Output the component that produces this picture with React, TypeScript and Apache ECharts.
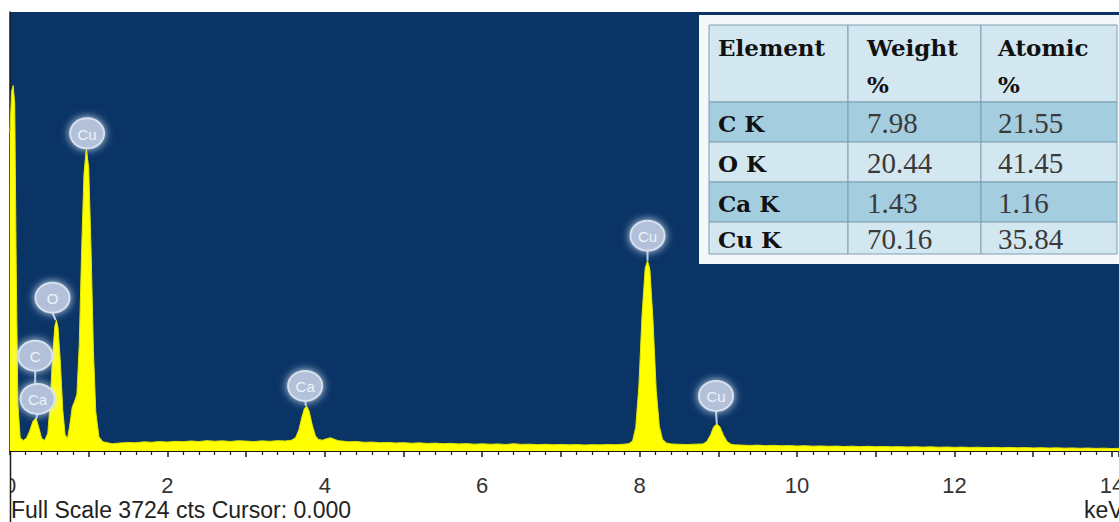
import React, { useEffect, useRef } from "react";
import * as echarts from "echarts";

// ---- spectrum data (keV, counts) ----
const energyKeV = [
  0, 0.02, 0.04, 0.06, 0.08, 0.1, 0.13, 0.17, 0.21, 0.25, 0.29, 0.33, 0.37, 0.4, 0.44, 0.48,
  0.51, 0.54, 0.57, 0.59, 0.61, 0.64, 0.67, 0.7, 0.73, 0.76, 0.79, 0.82, 0.85, 0.88, 0.91, 0.94,
  0.97, 1.0, 1.03, 1.06, 1.09, 1.13, 1.18,
  1.3, 1.4, 1.5, 1.6, 1.7, 1.8, 1.9, 2.0, 2.1, 2.2, 2.3, 2.4, 2.5, 2.6, 2.7, 2.8, 2.9, 3.0, 3.1,
  3.2, 3.3, 3.4, 3.5,
  3.58, 3.63, 3.67, 3.71, 3.74, 3.77, 3.8, 3.84, 3.88, 3.92, 3.97, 4.02, 4.07, 4.12, 4.17, 4.25,
  4.3, 4.4, 4.5, 4.6, 4.7, 4.8, 4.9, 5.0, 5.1, 5.2, 5.3, 5.4, 5.5, 5.6, 5.7, 5.8, 5.9, 6.0, 6.1,
  6.2, 6.3, 6.4, 6.5, 6.6, 6.7, 6.8, 6.9, 7.0, 7.1, 7.2, 7.3, 7.4, 7.5, 7.6, 7.7, 7.8,
  7.86, 7.91, 7.95, 7.99, 8.03, 8.07, 8.1, 8.13, 8.17, 8.21, 8.25, 8.29, 8.34, 8.4, 8.5, 8.6, 8.7,
  8.8, 8.85, 8.9, 8.94, 8.98, 9.02, 9.06, 9.11, 9.16,
  9.2, 9.3, 9.4, 9.5, 9.6, 9.7, 9.8, 9.9, 10.0, 10.1, 10.2, 10.3, 10.4, 10.5, 10.6, 10.7, 10.8,
  10.9, 11.0, 11.1, 11.2, 11.3, 11.4, 11.5, 11.6, 11.7, 11.8, 11.9, 12.0, 12.1, 12.2, 12.3, 12.4,
  12.5, 12.6, 12.7, 12.8, 12.9, 13.0, 13.1, 13.2, 13.3, 13.4, 13.5, 13.6, 13.7, 13.8, 13.9, 14.0,
  14.1,
];
const countsCts = [
  2700, 3050, 3100, 2950, 1500, 400, 110, 90, 110, 170, 250, 280, 190, 110, 90, 150,
  400, 800, 1060, 1110, 1050, 750, 350, 140, 105, 220, 370, 420, 480, 900, 1700, 2350,
  2570, 2400, 1700, 850, 330, 120, 78,
  62, 68, 72, 70, 78, 74, 80, 76, 82, 79, 85, 80, 88, 83, 86, 81, 87, 84, 80,
  86, 82, 88, 85,
  92, 115, 180, 290, 360, 380, 340, 220, 130, 98, 92, 104, 112, 100, 88, 82,
  78, 80, 74, 76, 70, 73, 68, 71, 66, 69, 64, 67, 62, 65, 60, 63, 58, 61, 57,
  60, 55, 62, 56, 58, 54, 57, 53, 56, 52, 55, 51, 54, 52, 55, 53, 58,
  62, 85, 200, 550, 1150, 1550, 1615, 1540, 1100, 520, 210, 100, 68, 60, 57, 55, 58,
  60, 78, 135, 205, 230, 205, 140, 80, 58,
  52, 50, 47, 50, 45, 48, 44, 46, 42, 45, 41, 43, 40, 42, 38, 41, 37,
  40, 36, 38, 35, 37, 34, 36, 33, 35, 32, 34, 31, 33, 30, 32, 29,
  31, 28, 30, 27, 29, 26, 28, 25, 27, 24, 26, 23, 25, 22, 24, 21,
  23,
];

const fullScaleCts = 3724;
const axisMaxKeV = 14.09;
const tickLabelsKeV = [0, 2, 4, 6, 8, 10, 12, 14];

// ---- element markers ----
const peakLabels = ["Cu", "O", "C", "Ca", "Ca", "Cu", "Cu"];
const labelKeV = [0.98, 0.54, 0.32, 0.35, 3.75, 8.1, 8.97];
const labelCounts = [2695, 1300, 808, 442, 552, 1827, 467];
const peakKeV = [0.97, 0.58, 0.32, 0.33, 3.76, 8.1, 8.98];
const peakCounts = [2570, 1110, 570, 272, 380, 1615, 230];

// ---- quantification table ----
const tableHeaderTop = ["Element", "Weight", "Atomic"];
const tableHeaderBottom = ["", "%", "%"];
const tableElements = ["C K", "O K", "Ca K", "Cu K"];
const weightPct = ["7.98", "20.44", "1.43", "70.16"];
const atomicPct = ["21.55", "41.45", "1.16", "35.84"];

function buildTable(): any[] {
  const colX = [709, 848, 981, 1117];
  const rowY = [25, 102, 142, 182, 222, 254];
  const textX = [718, 867, 998];
  const headerFill = "#d3e7f1";
  const rowFills = ["#a5cde0", "#d3e7f1", "#a5cde0", "#d3e7f1"];
  const stroke = "#7c9eb2";
  const boldFont = 'bold 23px "DejaVu Serif"';
  const valueFont = '29px "Liberation Serif"';
  const els: any[] = [];
  els.push({
    type: "rect",
    shape: { x: 699, y: 15, width: 421, height: 249 },
    style: { fill: "#f4f8fb" },
    z: 50,
  });
  for (let c = 0; c < 3; c++) {
    els.push({
      type: "rect",
      shape: { x: colX[c], y: rowY[0], width: colX[c + 1] - colX[c], height: rowY[1] - rowY[0] },
      style: { fill: headerFill, stroke, lineWidth: 1 },
      z: 51,
    });
    els.push({
      type: "text",
      style: { text: tableHeaderTop[c], x: textX[c], y: 47, font: boldFont, fill: "#111", verticalAlign: "middle" },
      z: 52,
    });
    if (tableHeaderBottom[c]) {
      els.push({
        type: "text",
        style: { text: tableHeaderBottom[c], x: textX[c], y: 84, font: boldFont, fill: "#111", verticalAlign: "middle" },
        z: 52,
      });
    }
  }
  for (let r = 0; r < tableElements.length; r++) {
    const y0 = rowY[r + 1];
    const y1 = rowY[r + 2];
    const vals = [tableElements[r], weightPct[r], atomicPct[r]];
    for (let c = 0; c < 3; c++) {
      els.push({
        type: "rect",
        shape: { x: colX[c], y: y0, width: colX[c + 1] - colX[c], height: y1 - y0 },
        style: { fill: rowFills[r], stroke, lineWidth: 1 },
        z: 51,
      });
      els.push({
        type: "text",
        style: {
          text: vals[c],
          x: textX[c],
          y: (y0 + y1) / 2 + 1,
          font: c === 0 ? boldFont : valueFont,
          fill: c === 0 ? "#111" : "#3a3a3a",
          verticalAlign: "middle",
        },
        z: 52,
      });
    }
  }
  return els;
}

export default function App() {
  const ref = useRef<HTMLDivElement>(null);
  useEffect(() => {
    if (!ref.current) return;
    const chart = echarts.init(ref.current, null, { renderer: "svg" });
    const spectrum = energyKeV.map((e, i) => [e, countsCts[i]]);
    const markers = labelKeV.map((e, i) => [e, labelCounts[i], peakKeV[i], peakCounts[i]]);
    chart.setOption({
      animation: false,
      backgroundColor: "#ffffff",
      grid: {
        left: 10,
        right: 0,
        top: 12,
        bottom: 71,
        show: true,
        containLabel: false,
        outerBoundsMode: "none",
        backgroundColor: "#0a3466",
        borderWidth: 0,
      },
      xAxis: {
        type: "value",
        min: 0,
        max: axisMaxKeV,
        interval: 1,
        axisLine: { show: true, lineStyle: { color: "#1a1a1a", width: 2 } },
        axisTick: { show: true, length: 6, lineStyle: { color: "#1a1a1a", width: 1.5 } },
        minorTick: { show: true, splitNumber: 5, length: 4, lineStyle: { color: "#1a1a1a", width: 1.2 } },
        splitLine: { show: false },
        axisLabel: {
          margin: 23,
          fontSize: 22,
          fontFamily: '"Liberation Sans", Arial, sans-serif',
          color: "#333",
          showMaxLabel: false,
          formatter: (v: number) => (tickLabelsKeV.indexOf(Math.round(v * 100) / 100) >= 0 ? String(v) : ""),
        },
      },
      yAxis: {
        type: "value",
        min: 0,
        max: fullScaleCts,
        axisLine: { show: true, lineStyle: { color: "#1a1a1a", width: 1.5 } },
        axisTick: { show: false },
        axisLabel: { show: false },
        splitLine: { show: false },
      },
      series: [
        {
          type: "line",
          data: spectrum,
          showSymbol: false,
          symbol: "none",
          lineStyle: { color: "#dfe600", width: 1 },
          areaStyle: { color: "#ffff00", opacity: 1 },
          z: 2,
        },
        {
          type: "custom",
          data: markers,
          z: 5,
          renderItem: (params: any, api: any) => {
            const i = params.dataIndex;
            const c = api.coord([api.value(0), api.value(1)]);
            const p = api.coord([api.value(2), api.value(3)]);
            const r = 15;
            return {
              type: "group",
              children: [
                {
                  type: "line",
                  shape: { x1: p[0], y1: p[1], x2: c[0], y2: c[1] + r },
                  style: { stroke: "#b9cde2", lineWidth: 2 },
                },
                {
                  type: "ellipse",
                  shape: { cx: c[0], cy: c[1], rx: r + 2, ry: r },
                  style: {
                    fill: "#b2c1d9",
                    stroke: "#d6e0ee",
                    lineWidth: 2,
                    shadowBlur: 8,
                    shadowColor: "rgba(225,234,248,0.95)",
                  },
                },
                {
                  type: "text",
                  style: {
                    text: peakLabels[i],
                    x: c[0],
                    y: c[1] + 1,
                    align: "center",
                    verticalAlign: "middle",
                    fill: "#eef3fa",
                    font: '15px "Liberation Sans", Arial, sans-serif',
                  },
                },
              ],
            };
          },
        },
      ],
      graphic: [
        ...buildTable(),
        {
          type: "rect",
          shape: { x: 0, y: 455, width: 10, height: 67 },
          style: { fill: "#ffffff" },
          z: 60,
        },
        {
          type: "line",
          shape: { x1: 10.5, y1: 451, x2: 10.5, y2: 522 },
          style: { stroke: "#1a1a1a", lineWidth: 1.5 },
          z: 61,
        },
        {
          type: "text",
          style: {
            text: "Full Scale " + fullScaleCts + " cts Cursor: 0.000",
            x: 11,
            y: 510,
            font: '23px "Liberation Sans", Arial, sans-serif',
            fill: "#222",
            verticalAlign: "middle",
          },
          z: 62,
        },
        {
          type: "text",
          style: {
            text: "keV",
            x: 1084,
            y: 510,
            font: '23px "Liberation Sans", Arial, sans-serif',
            fill: "#222",
            verticalAlign: "middle",
          },
          z: 62,
        },
      ],
    });
    return () => chart.dispose();
  }, []);
  return (
    <div
      ref={ref}
      style={{ position: "absolute", left: 0, top: 0, width: 1119, height: 522, overflow: "hidden", background: "#fff" }}
    />
  );
}
